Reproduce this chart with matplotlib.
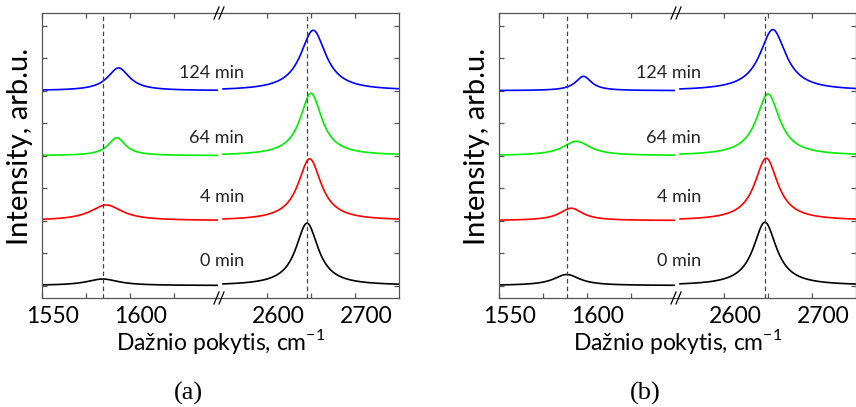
import numpy as np
import matplotlib
matplotlib.use('Agg')
import matplotlib.pyplot as plt
import matplotlib.transforms as mtransforms

plt.rcParams['font.family'] = ['Lato', 'DejaVu Sans']
plt.rcParams['mathtext.fontset'] = 'custom'
plt.rcParams['mathtext.rm'] = 'Lato'

# Raman spectra: Lorentzian peak parameters per curve
labels = ['0 min', '4 min', '64 min', '124 min']
colors = ['black', '#ff0000', '#00ee00', '#0000ff']
baselines = [0.0, 2.0, 4.0, 6.0]

# panel (a)
a_g_pos = [1584.5, 1586.5, 1592.5, 1593.5]
a_g_amp = [0.20, 0.48, 0.55, 0.70]
a_g_fwhm = [22, 22, 12, 15]
a_d_pos = [2645.5, 2648.5, 2650.0, 2652.5]
a_d_amp = [1.92, 1.90, 1.92, 1.86]
a_d_fwhm = [31, 32, 30, 35]
a_dash = [1584.5, 2645.5]

# panel (b)
b_g_pos = [1588.5, 1591.0, 1594.0, 1598.0]
b_g_amp = [0.34, 0.38, 0.44, 0.44]
b_g_fwhm = [18, 16, 19, 11]
b_d_pos = [2646.5, 2648.0, 2650.0, 2655.5]
b_d_amp = [1.95, 1.92, 1.90, 1.88]
b_d_fwhm = [32, 32, 32, 36]
b_dash = [1588.5, 2646.3]

label_y = [0.75, 2.72, 4.55, 6.55]

x_lo = np.linspace(1550, 1650, 400)
x_hi = np.linspace(2550, 2750, 600)


def lor(x, x0, amp, fwhm):
    hw = fwhm / 2.0
    return amp * hw**2 / ((x - x0)**2 + hw**2)


W, H = 856, 407
fig = plt.figure(figsize=(W / 100, H / 100), dpi=100)

frame_col = '#555555'
bot = 1 - 297.7 / H
hgt = (297.7 - 12.7) / H


def panel(dx, g_pos, g_amp, g_fwhm, d_pos, d_amp, d_fwhm, dash, tag):
    axl = fig.add_axes([(42 + dx) / W, bot, 176 / W, hgt])
    axr = fig.add_axes([(218 + dx) / W, bot, 181 / W, hgt])
    for i in range(4):
        yl = baselines[i] + lor(x_lo, g_pos[i], g_amp[i], g_fwhm[i]) + lor(x_lo, d_pos[i], d_amp[i], d_fwhm[i])
        yh = baselines[i] + lor(x_hi, g_pos[i], g_amp[i], g_fwhm[i]) + lor(x_hi, d_pos[i], d_amp[i], d_fwhm[i])
        axl.plot(x_lo, yl, color=colors[i], lw=1.2)
        axr.plot(x_hi, yh, color=colors[i], lw=1.2)
        axr.text(2574, label_y[i], labels[i], ha='right', va='center',
                 fontsize=13, color='#222222', clip_on=False)
    axl.axvline(dash[0], color='#444444', ls=(0, (3.5, 2.5)), lw=0.9)
    axr.axvline(dash[1], color='#444444', ls=(0, (3.5, 2.5)), lw=0.9)

    axl.set_xlim(1550, 1650)
    axr.set_xlim(2750 - 181 / 0.88, 2750)
    for ax in (axl, axr):
        ax.set_ylim(-0.375, 8.4)
        ax.set_yticks(range(0, 9))
        ax.set_yticklabels([])
        for s in ax.spines.values():
            s.set_color(frame_col)
            s.set_linewidth(0.9)
        ax.tick_params(direction='in', length=3.5, width=0.9, color=frame_col,
                       top=True, labelsize=16.5, pad=6)
    axl.spines['right'].set_visible(False)
    axr.spines['left'].set_visible(False)
    axl.tick_params(axis='y', left=True, right=False)
    axr.tick_params(axis='y', left=False, right=True)
    axl.set_xticks([1550, 1575, 1600, 1625])
    axl.set_xticklabels(['1550', '', '1600', ''])
    axr.set_xticks([2600, 2650, 2700])
    axr.set_xticklabels(['2600', '', '2700'])
    off = mtransforms.ScaledTranslation(11 / 100, 0, fig.dpi_scale_trans)
    for ax in (axl, axr):
        for lab in ax.get_xticklabels():
            lab.set_transform(lab.get_transform() + off)

    # break marks
    for yb in (13, 298):
        for xs in (214, 219):
            fig.add_artist(plt.Line2D([(xs + dx) / W, (xs + 5 + dx) / W],
                                      [1 - (yb + 6) / H, 1 - (yb - 6) / H],
                                      color='black', lw=0.9))

    fig.text((20 + dx) / W, 1 - 146 / H, 'Intensity, arb.u.', rotation=90,
             ha='center', va='center', fontsize=21)
    fig.text((221 + dx) / W, 1 - 341 / H, 'Dažnio pokytis, cm$^{\\mathregular{-1}}$',
             ha='center', va='center', fontsize=16.5)
    fig.text((188 + dx) / W, 1 - 393 / H, tag, ha='center', va='center',
             fontsize=19, family='Liberation Serif')


panel(0, a_g_pos, a_g_amp, a_g_fwhm, a_d_pos, a_d_amp, a_d_fwhm, a_dash, '(a)')
panel(457, b_g_pos, b_g_amp, b_g_fwhm, b_d_pos, b_d_amp, b_d_fwhm, b_dash, '(b)')

fig.savefig('out.png', dpi=100)
